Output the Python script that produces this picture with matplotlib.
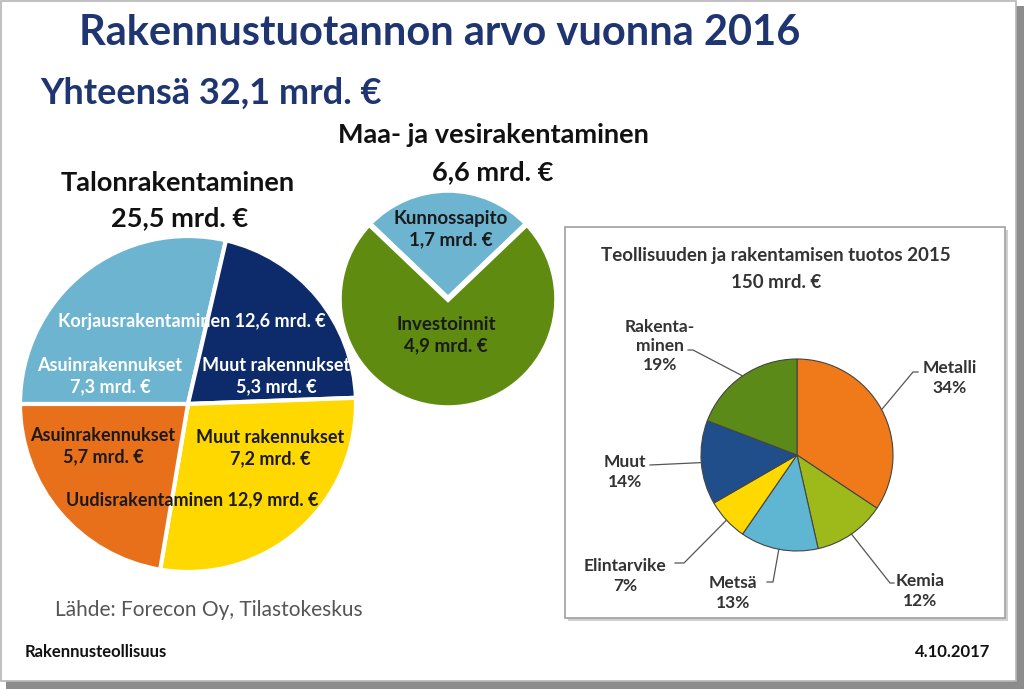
import matplotlib.pyplot as plt
from matplotlib.patches import Rectangle
import numpy as np

plt.rcParams['font.family'] = ['Lato', 'DejaVu Sans']

# Talonrakentaminen, mrd. € (korjaus asuin, korjaus muut, uudis muut, uudis asuin)
talo_values = [7.3, 5.3, 7.2, 5.7]
talo_colors = ['#6cb4d0', '#0d2a6b', '#ffd800', '#e8701a']

# Maa- ja vesirakentaminen, mrd. € (kunnossapito, investoinnit)
maa_values = [1.7, 4.9]
maa_colors = ['#6cb4d0', '#5e8b10']

# Teollisuuden ja rakentamisen tuotos 2015, %
teol_labels = ['Metalli', 'Kemia', 'Metsä', 'Elintarvike', 'Muut', 'Rakenta-\nminen']
teol_values = [34, 12, 13, 7, 14, 19]
teol_colors = ['#f07a1a', '#9dba1a', '#5fb6d2', '#ffd800', '#1f4e8a', '#5c8a18']

H = 689


def Y(y):
    # pixel row from top -> data y
    return H - y


fig = plt.figure(figsize=(10.24, 6.89), dpi=100)
ax = fig.add_axes([0, 0, 1, 1])

# slide frame with shadow
ax.add_patch(Rectangle((6, 0), 1018, 683, facecolor='#8c8c8c', edgecolor='none', zorder=0))
ax.add_patch(Rectangle((1, 8), 1015, 680, facecolor='white', edgecolor='#b5b5b5', lw=1.2, zorder=1))

navy = '#1f3572'
ax.text(440, Y(33), 'Rakennustuotannon arvo vuonna 2016', ha='center', va='center',
        fontsize=30, fontweight='bold', color=navy)
ax.text(40, Y(93), 'Yhteensä 32,1 mrd. €', ha='left', va='center',
        fontsize=26, fontweight='bold', color=navy)

# ---------------- Talonrakentaminen ----------------
ax.text(178, Y(183), 'Talonrakentaminen', ha='center', va='center', fontsize=19.5, fontweight='bold', color='#111111')
ax.text(180, Y(218), '25,5 mrd. €', ha='center', va='center', fontsize=19.5, fontweight='bold', color='#111111')

ax.pie(talo_values, colors=talo_colors, startangle=180, counterclock=False,
       center=(188, Y(404)), radius=168, frame=True,
       wedgeprops=dict(edgecolor='white', linewidth=3))

lab = dict(ha='center', va='center', fontsize=13, fontweight='bold', linespacing=1.3)
ax.text(192, Y(322), 'Korjausrakentaminen 12,6 mrd. €', color='white', **lab)
ax.text(110, Y(376), 'Asuinrakennukset\n7,3 mrd. €', color='white', **lab)
ax.text(276, Y(376), 'Muut rakennukset\n5,3 mrd. €', color='white', **lab)
ax.text(103, Y(446), 'Asuinrakennukset\n5,7 mrd. €', color='#1a1a1a', **lab)
ax.text(270, Y(448), 'Muut rakennukset\n7,2 mrd. €', color='#1a1a1a', **lab)
ax.text(192, Y(500), 'Uudisrakentaminen 12,9 mrd. €', color='#1a1a1a', **lab)

# ---------------- Maa- ja vesirakentaminen ----------------
ax.text(493, Y(135), 'Maa- ja vesirakentaminen', ha='center', va='center', fontsize=19.5, fontweight='bold', color='#111111')
ax.text(493, Y(172), '6,6 mrd. €', ha='center', va='center', fontsize=19.5, fontweight='bold', color='#111111')

maa_start = 90 - maa_values[0] / sum(maa_values) * 180
ax.pie(maa_values, colors=maa_colors, startangle=maa_start, counterclock=True,
       center=(448, Y(299)), radius=109, frame=True,
       wedgeprops=dict(edgecolor='white', linewidth=4))
mid = dict(lab, fontsize=13.5)
ax.text(451, Y(229), 'Kunnossapito\n1,7 mrd. €', color='#1a1a1a', **mid)
ax.text(446, Y(335), 'Investoinnit\n4,9 mrd. €', color='#1a1a1a', **mid)

# ---------------- Teollisuus box ----------------
ax.add_patch(Rectangle((568, Y(621)), 440, 391, facecolor='#d0d0d0', edgecolor='none', zorder=1))
ax.add_patch(Rectangle((565, Y(618)), 440, 391, facecolor='white', edgecolor='#a0a0a0', lw=1.2, zorder=1))
ax.text(776, Y(256), 'Teollisuuden ja rakentamisen tuotos 2015', ha='center', va='center',
        fontsize=13.5, fontweight='bold', color='#333333')
ax.text(776, Y(282), '150 mrd. €', ha='center', va='center',
        fontsize=13.5, fontweight='bold', color='#333333')

cx, cy, r = 797, Y(455), 96
wedges, _ = ax.pie(teol_values, colors=teol_colors, startangle=90, counterclock=False,
                   center=(cx, cy), radius=r, frame=True,
                   wedgeprops=dict(edgecolor='#444444', linewidth=0.8))

# elbow point of leader line, end of its short horizontal part, label centre
elbows = [(913, 372), (890, 583), (773, 582), (684, 563), (650, 465), (693, 350)]
ends = [(918, 372), (894, 583), (767, 582), (675, 563), (650, 465), (688, 350)]
label_pos = [(950, 378), (920, 591), (733, 593), (625, 576), (625, 472), (660, 346)]

for w, name, val, el, en, lp in zip(wedges, teol_labels, teol_values, elbows, ends, label_pos):
    ang = np.deg2rad((w.theta1 + w.theta2) / 2)
    ex, ey = cx + r * np.cos(ang), cy + r * np.sin(ang)
    ax.plot([ex, el[0], en[0]], [ey, Y(el[1]), Y(en[1])], color='#555555', lw=0.9, zorder=3)
    ax.text(lp[0], Y(lp[1]), f'{name}\n{val}%', ha='center', va='center', fontsize=12.5,
            fontweight='bold', color='#333333', linespacing=1.25, zorder=4)

# ---------------- footer ----------------
ax.text(55, Y(610), 'Lähde: Forecon Oy, Tilastokeskus', ha='left', va='center', fontsize=15, color='#555555')
ax.text(25, Y(652), 'Rakennusteollisuus', ha='left', va='center', fontsize=12, fontweight='bold', color='#111111')
ax.text(990, Y(652), '4.10.2017', ha='right', va='center', fontsize=12, fontweight='bold', color='#111111')

ax.set_xlim(0, 1024)
ax.set_ylim(0, H)
ax.set_aspect('auto')
ax.axis('off')

fig.savefig('out.png', dpi=100)
